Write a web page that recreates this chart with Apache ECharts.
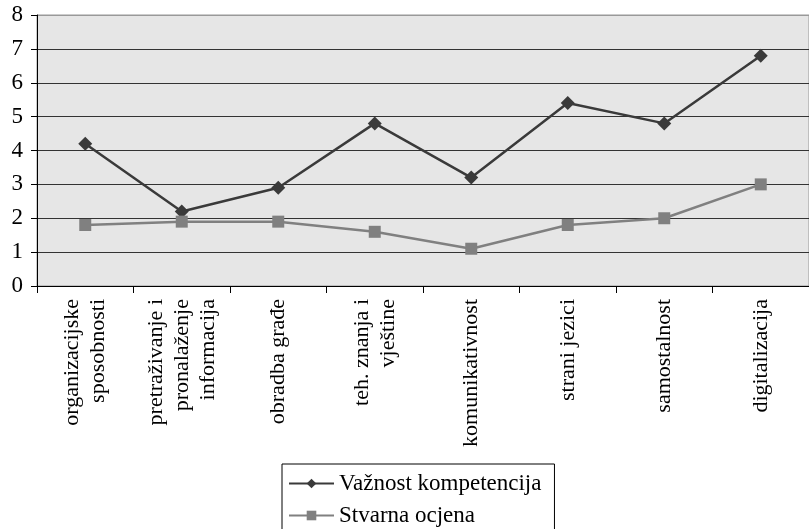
<!DOCTYPE html>
<html><head><meta charset="utf-8">
<script src="https://cdn.jsdelivr.net/npm/echarts@6/dist/echarts.min.js"></script>
<style>html,body{margin:0;padding:0;background:#fff}#c{width:809px;height:529px}</style>
</head><body><div id="c"></div>
<script>
const categories = ['organizacijske\nsposobnosti', 'pretraživanje i\npronalaženje\ninformacija', 'obradba građe', 'teh. znanja i\nvještine', 'komunikativnost', 'strani jezici', 'samostalnost', 'digitalizacija'];
const vaznost = [4.2, 2.2, 2.9, 4.8, 3.2, 5.4, 4.8, 6.8];
const stvarna = [1.8, 1.9, 1.9, 1.6, 1.1, 1.8, 2.0, 3.0];
const yTicks = { min: 0, max: 8, interval: 1 };
const seriesNames = ['Važnost kompetencija', 'Stvarna ocjena'];

const font = '"Liberation Serif", "Times New Roman", serif';
const chart = echarts.init(document.getElementById('c'), null, { renderer: 'canvas' });
chart.setOption({
  animation: false,
  textStyle: { fontFamily: font },
  grid: { left: 37, top: 15, width: 780, height: 271, show: true, backgroundColor: '#e6e6e6', borderColor: '#999', borderWidth: 1 },
  legend: {
    orient: 'vertical', left: 282, top: 464, height: 120,
    backgroundColor: '#fff', borderColor: '#000', borderWidth: 1,
    padding: [8, 13, 8, 6], itemGap: 9, itemWidth: 45, itemHeight: 12,
    textStyle: { fontFamily: font, fontSize: 23, color: '#000' },
    data: seriesNames
  },
  xAxis: {
    type: 'category', data: categories, boundaryGap: true,
    axisLine: { lineStyle: { color: '#000', width: 1 } },
    axisTick: { show: true, length: 7, lineStyle: { color: '#000' } },
    axisLabel: { rotate: 90, margin: 13, fontFamily: font, fontSize: 22, color: '#000', lineHeight: 26, interval: 0 },
    splitLine: { show: false }
  },
  yAxis: {
    type: 'value', min: yTicks.min, max: yTicks.max, interval: yTicks.interval,
    axisLine: { show: true, lineStyle: { color: '#000', width: 1 } },
    axisTick: { show: true, length: 6, lineStyle: { color: '#000' } },
    axisLabel: { margin: 14, fontFamily: font, fontSize: 23, color: '#000' },
    splitLine: { show: true, lineStyle: { color: ['#333','#333','#333','#333','#333','#333','#333','#333','#999'], width: 1 } }
  },
  series: [
    { name: seriesNames[0], type: 'line', data: vaznost, symbol: 'diamond', symbolSize: 14,
      lineStyle: { color: '#3a3a3a', width: 2.5 }, itemStyle: { color: '#3a3a3a' } },
    { name: seriesNames[1], type: 'line', data: stvarna, symbol: 'rect', symbolSize: 12,
      lineStyle: { color: '#808080', width: 2.5 }, itemStyle: { color: '#808080' } }
  ]
});
</script></body></html>
